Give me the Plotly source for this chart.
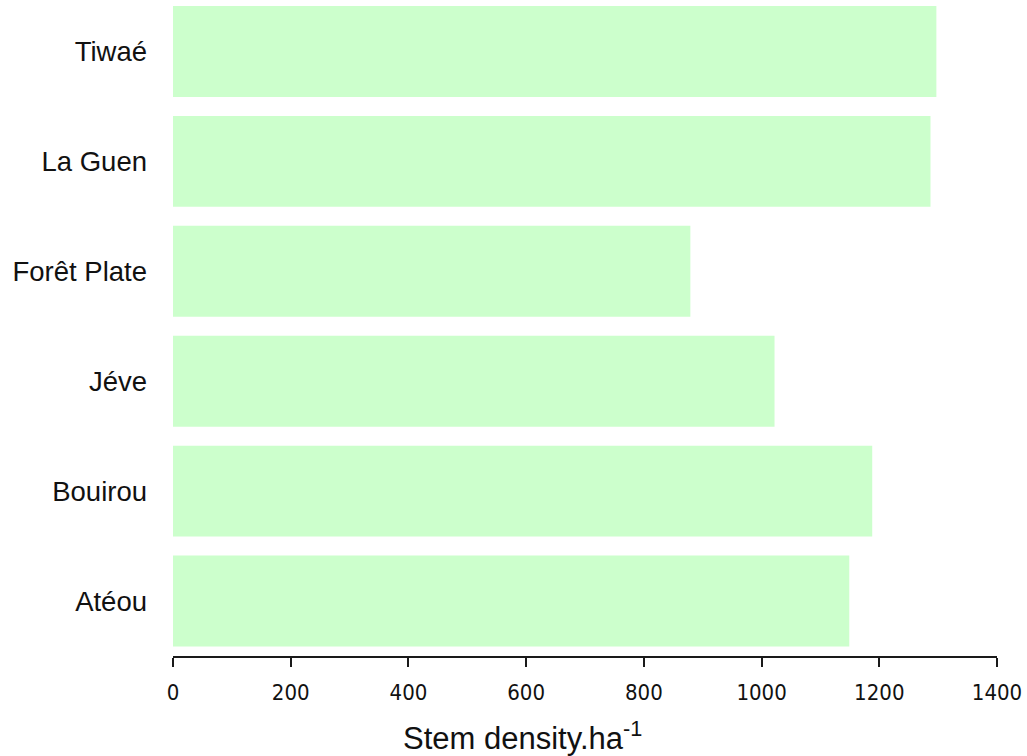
import plotly.graph_objects as go

# Stem density per site (stems per hectare)
sites = ["Atéou", "Bouirou", "Jéve", "Forêt Plate", "La Guen", "Tiwaé"]
stem_density = [1149, 1188, 1022, 879, 1287, 1297]
x_ticks = [0, 200, 400, 600, 800, 1000, 1200, 1400]

fig = go.Figure(
    go.Bar(
        x=stem_density,
        y=sites,
        orientation="h",
        marker=dict(color="#ccffcc", line=dict(width=0)),
    )
)

fig.update_layout(
    width=1027,
    height=756,
    margin=dict(l=173, r=30, t=0, b=100),
    paper_bgcolor="white",
    plot_bgcolor="white",
    bargap=0.173,
    showlegend=False,
    xaxis=dict(
        range=[0, 1400],
        tickvals=x_ticks,
        ticktext=[str(v) for v in x_ticks],
        showgrid=False,
        zeroline=False,
        showline=True,
        linecolor="#1a1a1a",
        linewidth=2,
        ticks="outside",
        ticklen=9,
        tickwidth=2,
        tickcolor="#1a1a1a",
        ticklabelstandoff=7,
        tickfont=dict(family="DejaVu Sans Condensed, DejaVu Sans", size=22, color="#111111"),
    ),
    yaxis=dict(
        range=[-0.5, 5.468],
        showgrid=False,
        zeroline=False,
        showline=False,
        ticks="",
        ticklabelstandoff=25,
        tickfont=dict(family="Liberation Sans, Arial", size=27.5, color="#111111"),
    ),
    annotations=[
        dict(
            text="Stem density.ha<sup>-1</sup>",
            xref="paper",
            yref="paper",
            x=0.277,
            y=-0.122,
            xanchor="left",
            yanchor="middle",
            showarrow=False,
            font=dict(family="Liberation Sans, Arial", size=31, color="#111111"),
        )
    ],
)

fig.write_html("out.html")
